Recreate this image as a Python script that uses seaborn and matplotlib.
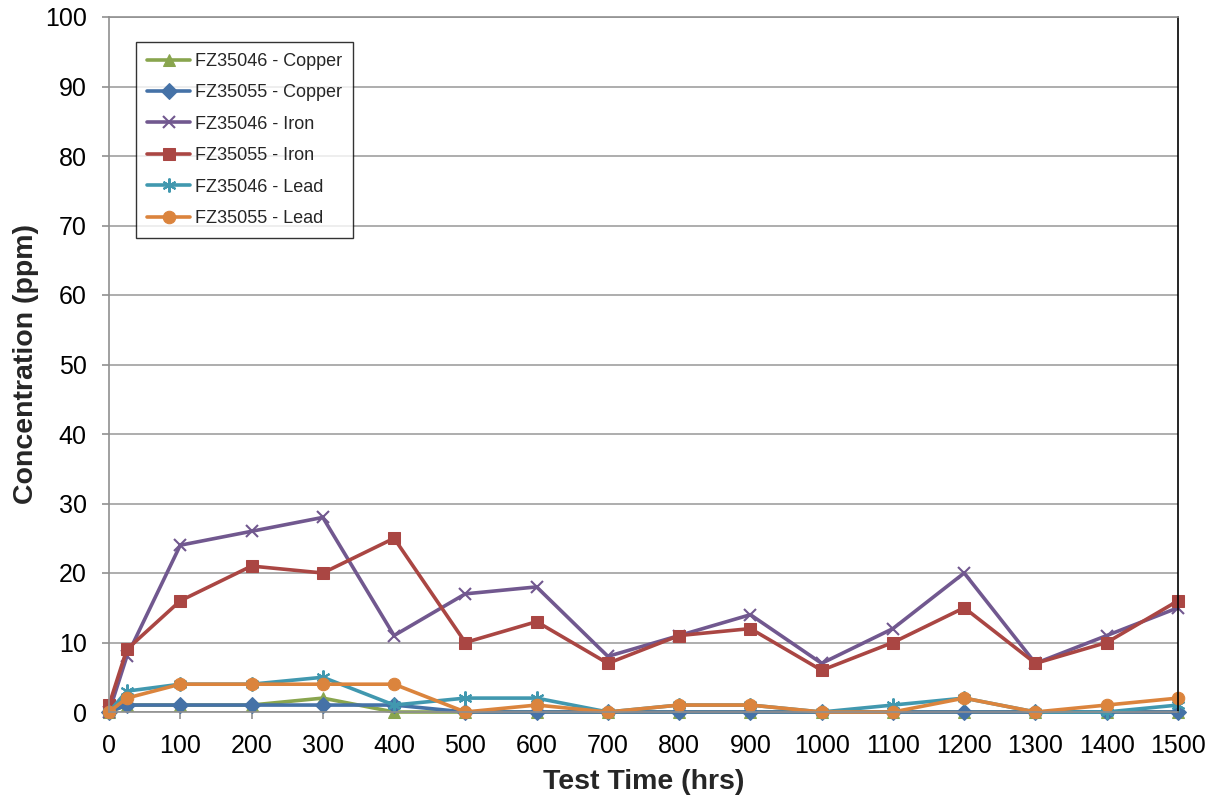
import matplotlib
matplotlib.use("Agg")
import matplotlib.pyplot as plt
import seaborn as sns
import pandas as pd

sns.set_theme(style="white")
plt.rcParams['font.family'] = ['Liberation Sans', 'DejaVu Sans']

hours = [0, 25, 100, 200, 300, 400, 500, 600, 700, 800, 900, 1000, 1100, 1200, 1300, 1400, 1500]
cu_46 = [0, 1, 1, 1, 2, 0, 0, 0, 0, 0, 0, 0, 0, 0, 0, 0, 0]
cu_55 = [0, 1, 1, 1, 1, 1, 0, 0, 0, 0, 0, 0, 0, 0, 0, 0, 0]
fe_46 = [0, 8, 24, 26, 28, 11, 17, 18, 8, 11, 14, 7, 12, 20, 7, 11, 15]
fe_55 = [1, 9, 16, 21, 20, 25, 10, 13, 7, 11, 12, 6, 10, 15, 7, 10, 16]
pb_46 = [0, 3, 4, 4, 5, 1, 2, 2, 0, 1, 1, 0, 1, 2, 0, 0, 1]
pb_55 = [0, 2, 4, 4, 4, 4, 0, 1, 0, 1, 1, 0, 0, 2, 0, 1, 2]

series_names = ["FZ35046 - Copper", "FZ35055 - Copper", "FZ35046 - Iron",
                "FZ35055 - Iron", "FZ35046 - Lead", "FZ35055 - Lead"]
series_vals = [cu_46, cu_55, fe_46, fe_55, pb_46, pb_55]
colors = ["#89A54E", "#4572A7", "#71588F", "#AA4643", "#4198AF", "#DB843D"]
markers = ["^", "D", "x", "s", (6, 2, 0), "o"]
msizes = [8, 8, 9, 9, 10, 9]

rows = []
for name, vals in zip(series_names, series_vals):
    for h, v in zip(hours, vals):
        rows.append({"hours": h, "conc": v, "series": name})
df = pd.DataFrame(rows)

fig = plt.figure(figsize=(12.18, 8), dpi=100)
ax = fig.add_axes([109/1218, 88/800, (1178-109)/1218, (712-17)/800])

for name, c, m, ms in zip(series_names, colors, markers, msizes):
    sub = df[df["series"] == name]
    kw = dict(markeredgecolor=c, markerfacecolor=c)
    if m == "x" or isinstance(m, tuple):
        kw["markeredgewidth"] = 1.5
    sns.lineplot(data=sub, x="hours", y="conc", ax=ax, color=c, linewidth=2.6,
                 marker=m, markersize=ms, label=name, clip_on=False, **kw)

ax.set_xlim(0, 1500)
ax.set_ylim(0, 100)
ax.set_xticks(range(0, 1501, 100))
ax.set_yticks(range(0, 101, 10))
ax.yaxis.grid(True, color="#A0A0A0", linewidth=1.2)
ax.xaxis.grid(False)
for s in ["left", "bottom", "top"]:
    ax.spines[s].set_color("#909090")
    ax.spines[s].set_linewidth(1.2)
ax.spines["right"].set_color("black")
ax.spines["right"].set_linewidth(1.2)
ax.tick_params(axis="both", which="both", direction="out", length=5, width=1.2,
               color="#909090", labelsize=18, labelcolor="black")
ax.tick_params(axis="x", bottom=True, pad=11)
ax.tick_params(axis="y", left=True, pad=11)
ax.set_xlabel("Test Time (hrs)", fontsize=20.5, fontweight="bold", labelpad=8)
ax.set_ylabel("Concentration (ppm)", fontsize=20.5, fontweight="bold", labelpad=4)

leg = ax.legend(loc="upper left", bbox_to_anchor=(27/1069, 1-25/695), frameon=True,
                fancybox=False, edgecolor="black", fontsize=13, handlelength=2.4,
                borderpad=0.6, labelspacing=0.8, handletextpad=0.25,
                borderaxespad=0)
leg.get_frame().set_linewidth(1.0)

fig.savefig("out.png", dpi=100, facecolor="white")
